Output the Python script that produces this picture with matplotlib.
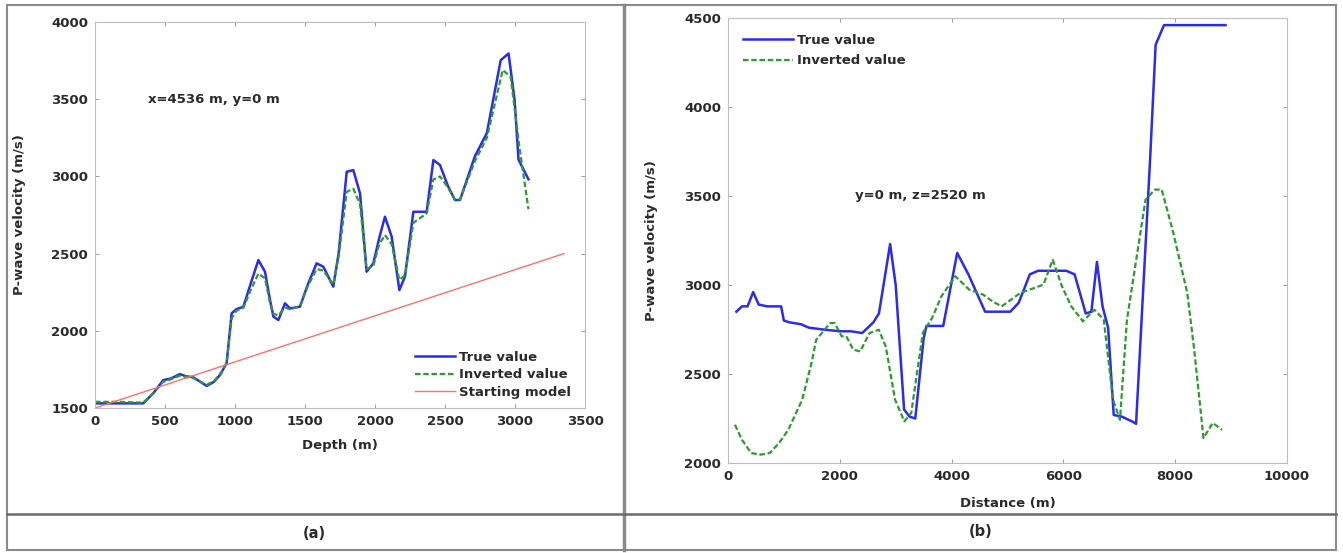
import matplotlib
matplotlib.use("Agg")
import matplotlib.pyplot as plt
from matplotlib.lines import Line2D
import numpy as np

# ---- panel (a): velocity profile vs depth ----
depth_true = [0, 150, 345, 420, 488, 540, 607, 650, 700, 798, 850, 893, 940, 976, 1010, 1060,
              1110, 1167, 1214, 1250, 1274, 1310, 1357, 1393, 1464, 1520, 1583, 1631, 1702,
              1740, 1798, 1845, 1893, 1940, 1988, 2030, 2071, 2119, 2174, 2214, 2274, 2369,
              2417, 2464, 2520, 2571, 2607, 2714, 2799, 2898, 2954, 2997, 3025, 3096]
vel_true = [1530, 1530, 1530, 1600, 1681, 1690, 1720, 1705, 1700, 1643, 1670, 1714, 1790, 2113,
            2140, 2156, 2300, 2458, 2383, 2200, 2092, 2070, 2178, 2145, 2156, 2300, 2437, 2415,
            2286, 2500, 3030, 3041, 2890, 2383, 2437, 2600, 2739, 2610, 2264, 2351, 2771, 2771,
            3106, 3074, 2940, 2847, 2847, 3131, 3281, 3753, 3796, 3496, 3109, 2981]

depth_inv = [0, 150, 345, 420, 488, 540, 607, 650, 700, 798, 850, 893, 940, 976, 1010, 1060,
             1110, 1167, 1214, 1250, 1274, 1310, 1357, 1393, 1464, 1520, 1583, 1631, 1702,
             1740, 1798, 1845, 1893, 1940, 1988, 2030, 2071, 2119, 2174, 2214, 2274, 2369,
             2417, 2464, 2520, 2571, 2607, 2714, 2799, 2912, 2969, 3030, 3096]
vel_inv = [1540, 1540, 1535, 1600, 1670, 1685, 1710, 1700, 1695, 1650, 1675, 1720, 1790, 2080,
           2130, 2150, 2260, 2370, 2340, 2180, 2110, 2100, 2150, 2140, 2160, 2290, 2400, 2390,
           2300, 2480, 2900, 2920, 2820, 2400, 2420, 2560, 2620, 2560, 2330, 2360, 2700, 2760,
           2980, 3000, 2930, 2850, 2850, 3100, 3250, 3689, 3646, 3200, 2788]

depth_start = [0, 3350]
vel_start = [1500, 2500]

# ---- panel (b): velocity profile vs distance ----
dist_true = [150, 250, 350, 450, 550, 700, 950, 1000, 1100, 1300, 1450, 1700, 2000, 2200, 2400,
             2600, 2700, 2900, 3000, 3150, 3250, 3350, 3500, 3550, 3850, 4100, 4300, 4600, 5050,
             5200, 5400, 5550, 6050, 6200, 6400, 6500, 6600, 6700, 6800, 6900, 7050, 7250, 7300,
             7550, 7650, 7800, 8900]
vel_true_b = [2850, 2880, 2880, 2960, 2890, 2880, 2880, 2800, 2790, 2780, 2760, 2750, 2740, 2740,
              2730, 2790, 2840, 3230, 3000, 2300, 2260, 2250, 2700, 2770, 2770, 3180, 3060, 2850,
              2850, 2900, 3060, 3080, 3080, 3060, 2840, 2850, 3130, 2880, 2760, 2270, 2260, 2230,
              2220, 3700, 4350, 4460, 4460]

dist_inv = [124, 249, 415, 581, 747, 913, 1079, 1328, 1494, 1577, 1826, 1909, 2033, 2116, 2241,
            2365, 2531, 2697, 2822, 2988, 3154, 3278, 3485, 3651, 3817, 4066, 4315, 4564, 4730,
            4896, 5062, 5228, 5477, 5643, 5809, 5975, 6141, 6349, 6556, 6722, 6888, 7012, 7137,
            7303, 7469, 7635, 7759, 7967, 8216, 8340, 8506, 8672, 8838]
vel_inv_b = [2215, 2131, 2056, 2047, 2056, 2112, 2187, 2356, 2562, 2692, 2786, 2786, 2712, 2712,
             2637, 2627, 2730, 2749, 2655, 2356, 2234, 2281, 2730, 2815, 2936, 3049, 2974, 2946,
             2908, 2880, 2917, 2955, 2983, 3002, 3142, 2992, 2880, 2796, 2861, 2805, 2356, 2243,
             2805, 3142, 3479, 3536, 3536, 3292, 2955, 2637, 2140, 2225, 2187]

BLUE = "#2b2bf0"
GREEN = "#2e9a2e"
RED = "#ff6f6f"
TXT = "#2a2a2a"
FRAME = "#bdbdbd"

plt.rcParams["font.family"] = "DejaVu Sans"
plt.rcParams["font.weight"] = "bold"
plt.rcParams["axes.labelweight"] = "bold"
plt.rcParams["font.size"] = 9.5

fig = plt.figure(figsize=(13.43, 5.53), dpi=100)
W, H = 1343.0, 553.0


def px_axes(left, top, right, bottom):
    return fig.add_axes([left / W, 1 - bottom / H, (right - left) / W, (bottom - top) / H])


def style_axes(ax):
    for sp in ax.spines.values():
        sp.set_color(FRAME)
        sp.set_linewidth(0.8)
    ax.tick_params(direction="in", length=3, width=0.7, color="#9a9a9a",
                   top=True, right=True, labelcolor=TXT, labelsize=9.5, pad=5)


# panel (a)
ax1 = px_axes(95, 22, 585, 408)
ax1.plot(depth_true, vel_true, color=BLUE, lw=1.8, label="True value")
ax1.plot(depth_inv, vel_inv, color=GREEN, lw=1.6, ls=(0, (2.5, 1.2)), label="Inverted value")
ax1.plot(depth_start, vel_start, color=RED, lw=1.0, label="Starting model")
ax1.set_xlim(0, 3500)
ax1.set_ylim(1500, 4000)
ax1.set_xticks(np.arange(0, 3501, 500))
ax1.set_yticks(np.arange(1500, 4001, 500))
ax1.set_xlabel("Depth (m)", color=TXT, labelpad=8)
ax1.set_ylabel("P-wave velocity (m/s)", color=TXT, labelpad=18)
style_axes(ax1)
ax1.text(380, 3500, "x=4536 m, y=0 m", color=TXT, va="center", ha="left")
ax1.legend(loc="lower right", bbox_to_anchor=(0.99, 0.0), frameon=False, handlelength=3.0,
           handletextpad=0.3, labelspacing=0.35, borderpad=0.2, labelcolor=TXT)

# panel (b)
ax2 = px_axes(728, 18, 1287, 463)
ax2.plot(dist_true, vel_true_b, color=BLUE, lw=1.8, label="True value")
ax2.plot(dist_inv, vel_inv_b, color=GREEN, lw=1.6, ls=(0, (2.5, 1.2)), label="Inverted value")
ax2.set_xlim(0, 10000)
ax2.set_ylim(2000, 4500)
ax2.set_xticks(np.arange(0, 10001, 2000))
ax2.set_yticks(np.arange(2000, 4501, 500))
ax2.set_xlabel("Distance (m)", color=TXT, labelpad=10)
ax2.set_ylabel("P-wave velocity (m/s)", color=TXT, labelpad=19)
style_axes(ax2)
ax2.text(2270, 3500, "y=0 m, z=2520 m", color=TXT, va="center", ha="left")
ax2.legend(loc="upper left", bbox_to_anchor=(0.01, 0.985), frameon=False, handlelength=3.8,
           handletextpad=0.3, labelspacing=0.55, borderpad=0.2, labelcolor=TXT)

# table borders around the two panels
def hline(y, x0, x1, lw, color):
    fig.add_artist(Line2D([x0 / W, x1 / W], [1 - y / H, 1 - y / H], lw=lw, color=color))


def vline(x, y0, y1, lw, color):
    fig.add_artist(Line2D([x / W, x / W], [1 - y0 / H, 1 - y1 / H], lw=lw, color=color))


hline(5, 7, 1336, 1.5, "#8a8a8a")
hline(550, 7, 1336, 1.5, "#8a8a8a")
vline(7, 5, 550, 1.5, "#8a8a8a")
vline(1336, 5, 550, 1.5, "#8a8a8a")
vline(624, 5, 550, 2.5, "#8a8a8a")
hline(514, 7, 1336, 1.8, "#6a6a6a")

fig.text(314 / W, 1 - 533 / H, "(a)", ha="center", va="center", color=TXT, fontsize=10.5)
fig.text(981 / W, 1 - 531 / H, "(b)", ha="center", va="center", color=TXT, fontsize=10.5)

fig.savefig("out.png", dpi=100, facecolor="white")
